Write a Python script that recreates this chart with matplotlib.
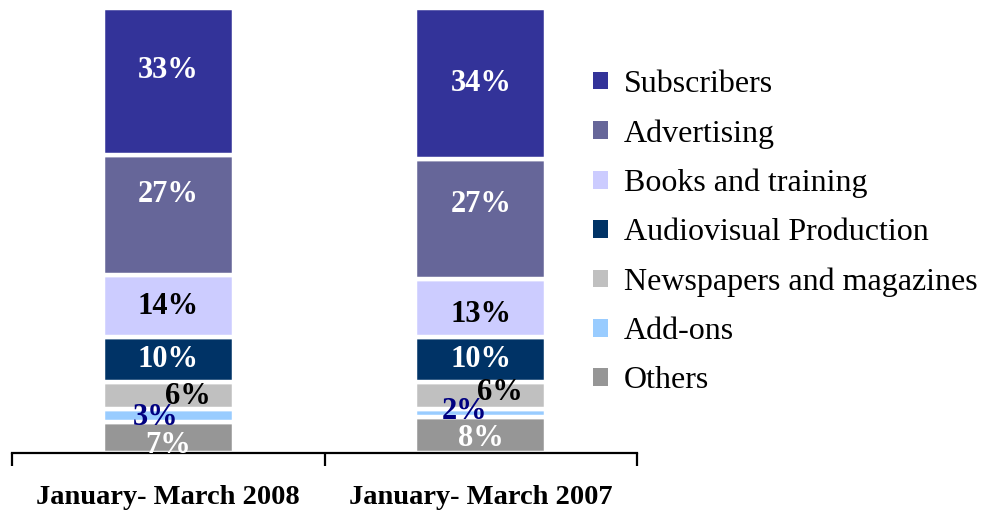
import matplotlib
matplotlib.use("Agg")
import matplotlib.pyplot as plt
from matplotlib.patches import Patch
import numpy as np

plt.rcParams['font.family'] = ['Liberation Serif', 'DejaVu Serif']

categories = ["January- March 2008", "January- March 2007"]
series = ["Subscribers", "Advertising", "Books and training", "Audiovisual Production",
          "Newspapers and magazines", "Add-ons", "Others"]
# values listed in series order (top to bottom of stack)
subscribers = [33, 34]
advertising = [27, 27]
books = [14, 13]
audiovisual = [10, 10]
newspapers = [6, 6]
addons = [3, 2]
others = [7, 8]

values = [subscribers, advertising, books, audiovisual, newspapers, addons, others]
colors = ["#333399", "#666699", "#CCCCFF", "#003366", "#C0C0C0", "#99CCFF", "#969696"]
text_colors = ["white", "white", "black", "white", "black", "#000080", "white"]

# label offsets (x in points, y in data units) per series per bar
label_dx = [[0, 0], [0, 0], [0, 0], [0, 0], [14, 14], [-9, -12], [0, 0]]
label_dy = [[2.4, 0], [4.5, 3.4], [0, -1.4], [0, 0], [-0.4, 0.5], [-0.6, 0.4], [-1.9, -0.8]]

fig = plt.figure(figsize=(9.84, 5.14), dpi=100)
ax = fig.add_axes([12/984, (514-453)/514, (637-12)/984, 445/514])

x = np.arange(len(categories))
width = 0.42
bottom = np.zeros(len(categories))
for i in range(len(series) - 1, -1, -1):
    vals = np.array(values[i], dtype=float)
    ax.bar(x, vals, width, bottom=bottom, color=colors[i], edgecolor="white", linewidth=3.2)
    for j in range(len(categories)):
        cy = bottom[j] + vals[j] / 2 + label_dy[i][j]
        ax.annotate(f"{int(vals[j])}%", xy=(x[j], cy), xytext=(label_dx[i][j], 0),
                    textcoords="offset points", ha="center", va="center",
                    fontsize=22, fontweight="bold", color=text_colors[i],
                    annotation_clip=False, clip_on=True)
    bottom += vals

ax.set_xlim(-0.5, 1.5)
ax.set_ylim(0, 100)
for s in ["top", "left", "right"]:
    ax.spines[s].set_visible(False)
ax.spines["bottom"].set_linewidth(1.6)
ax.set_yticks([])
ax.set_xticks(x)
ax.set_xticklabels(categories, fontsize=20.5, fontweight="bold")
ax.tick_params(axis="x", which="major", length=0, pad=23)
ax.set_xticks([-0.5, 0.5, 1.5], minor=True)
ax.tick_params(axis="x", which="minor", length=9.5, width=1.6, direction="out")

handles = [Patch(facecolor=c, edgecolor="none") for c in colors]
fig.legend(handles, series, loc="upper left", bbox_to_anchor=(593/984, 1 - 70/514),
           frameon=False, fontsize=23, handlelength=0.47, handleheight=0.47,
           handletextpad=0.5, labelspacing=0.63, borderaxespad=0, borderpad=0)

fig.savefig("out.png", dpi=100)
